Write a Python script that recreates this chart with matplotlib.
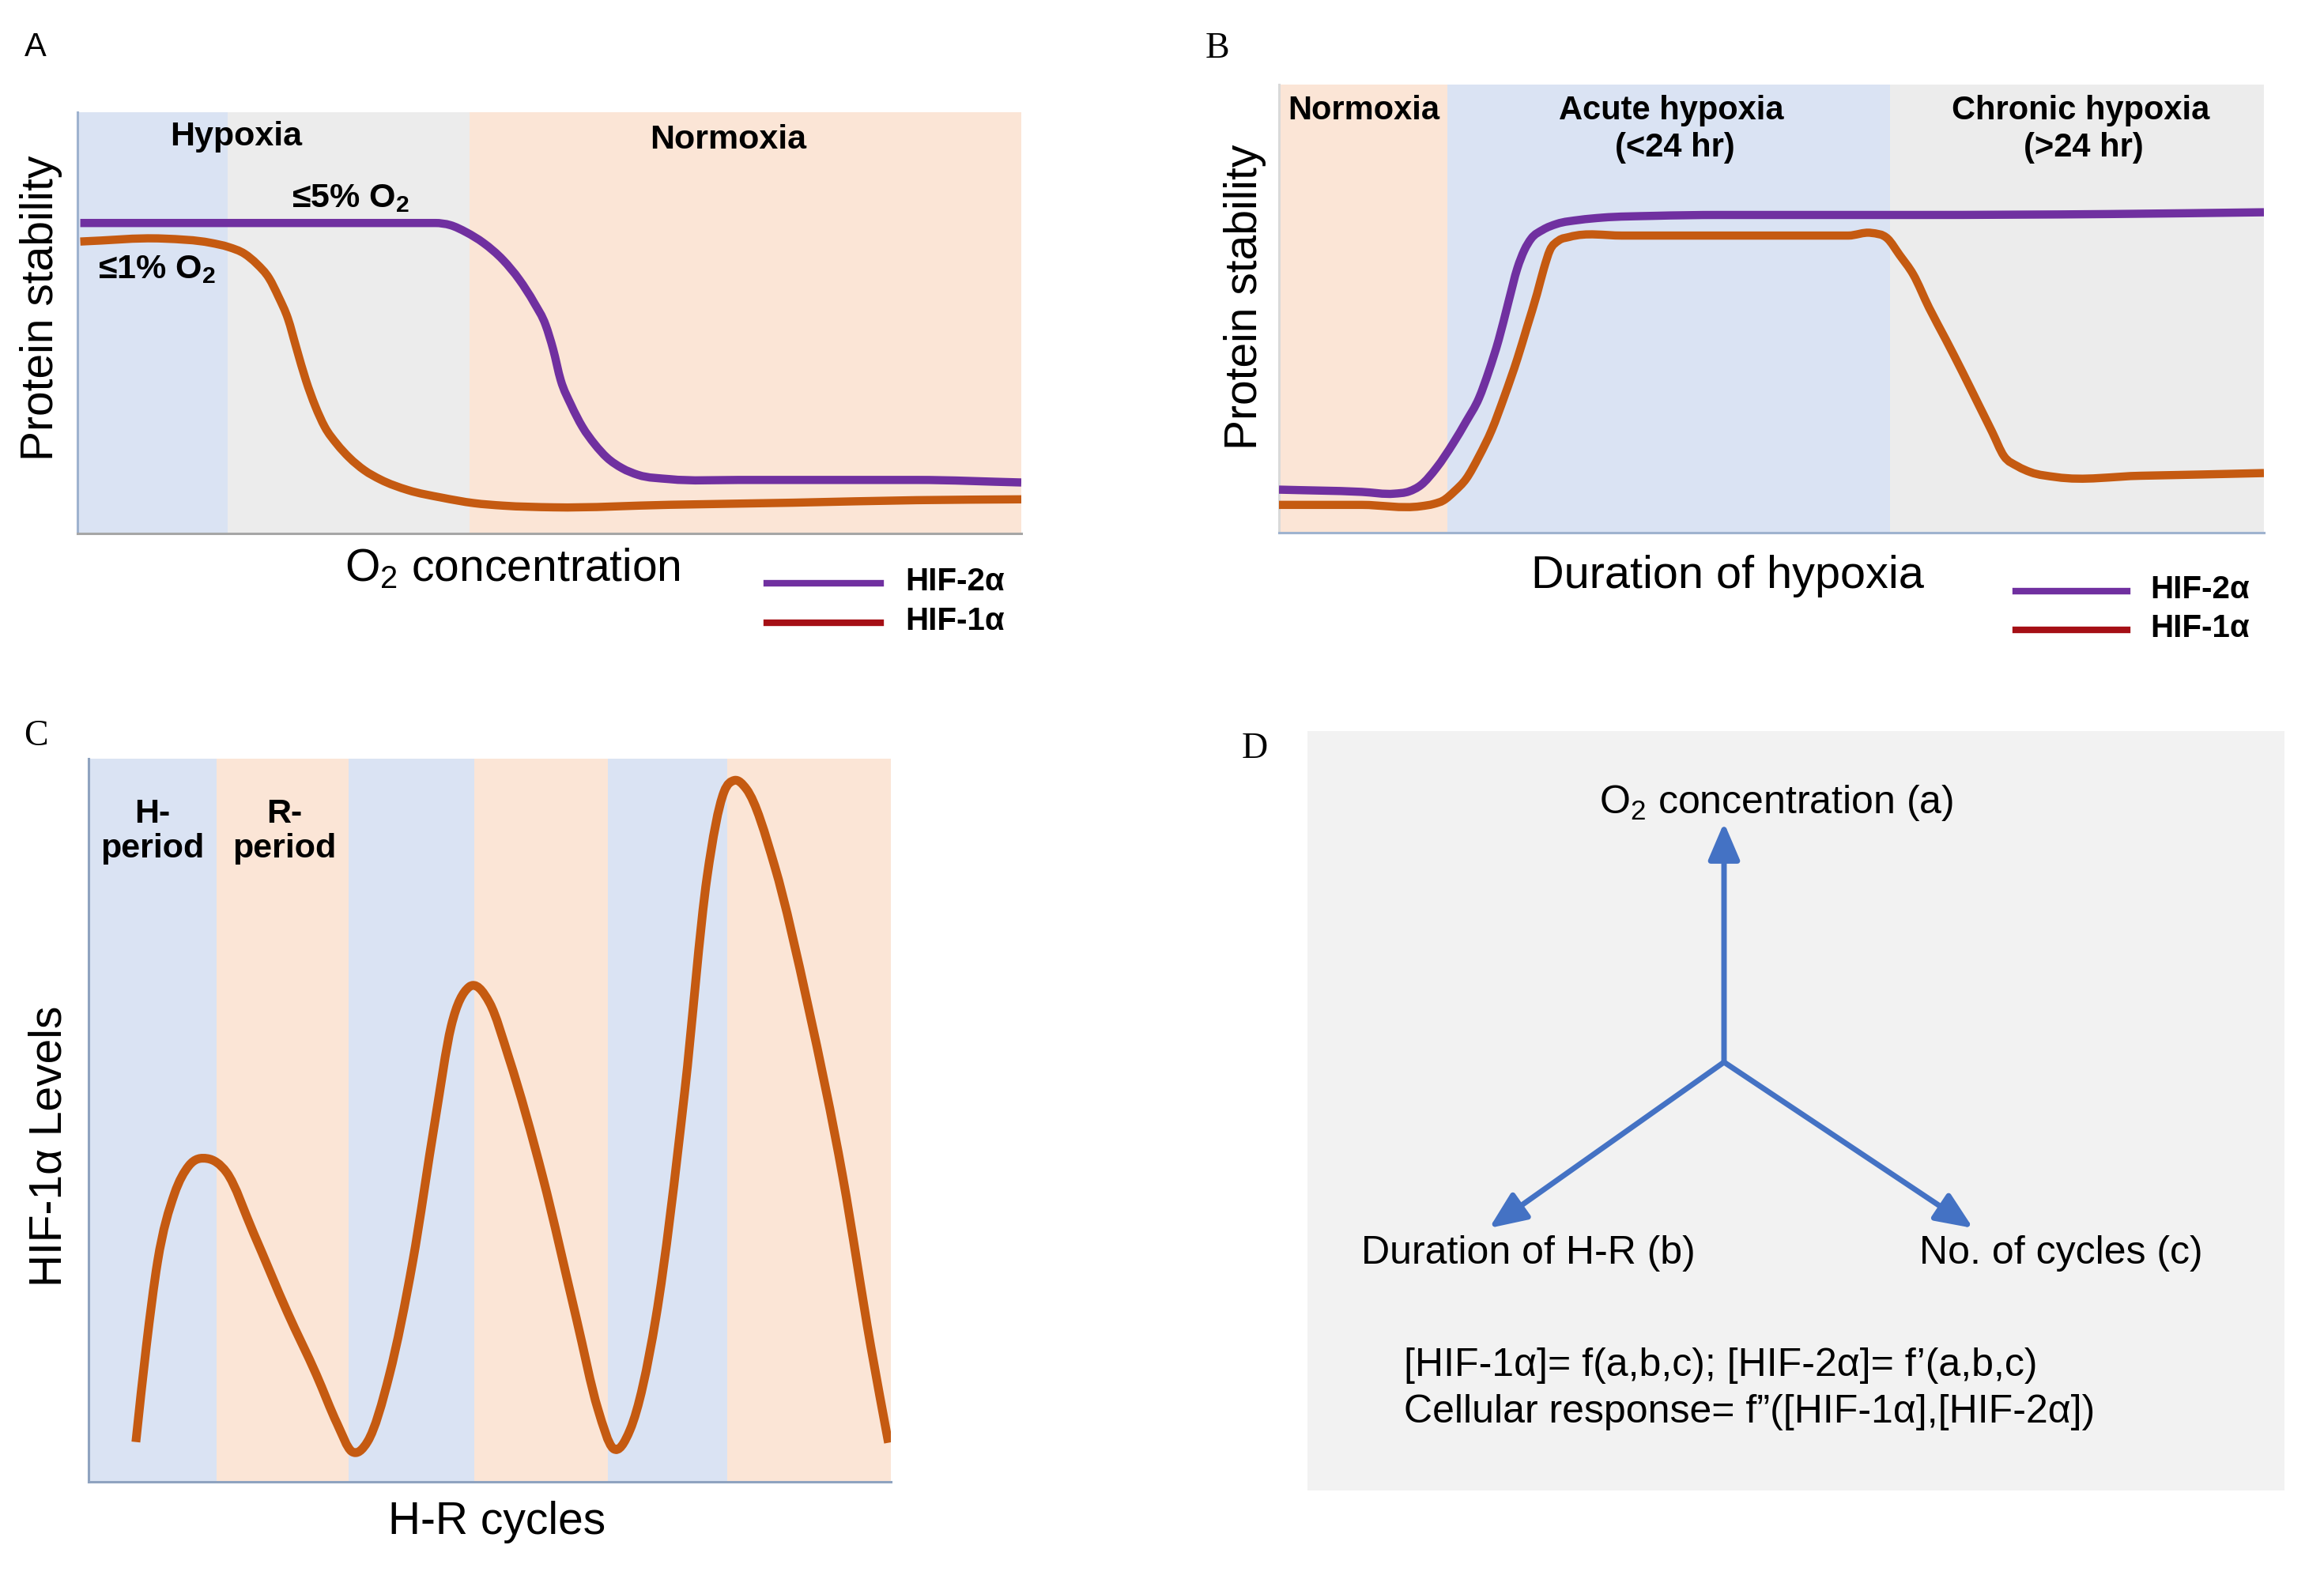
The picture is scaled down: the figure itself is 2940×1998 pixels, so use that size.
import matplotlib
matplotlib.use('Agg')
import matplotlib.pyplot as plt
from matplotlib.lines import Line2D
from matplotlib.path import Path
from matplotlib.patches import PathPatch

plt.rcParams['font.family'] = ['Liberation Sans', 'DejaVu Sans']
plt.rcParams['mathtext.fontset'] = 'custom'
plt.rcParams['mathtext.rm'] = 'Liberation Sans'
plt.rcParams['mathtext.bf'] = 'Liberation Sans:bold'
plt.rcParams['mathtext.default'] = 'regular'

W, H = 2940, 1998

# colours
BLUE_BAND = '#dae3f3'
GRAY_BAND = '#ececec'
PEACH_BAND = '#fbe5d6'
PURPLE = '#7030a0'
ORANGE = '#c55a11'
DARK_RED = '#a50f15'
ARROW_BLUE = '#4472c4'

# Panel A: protein stability vs O2 concentration (x, y as axis fractions)
a_bands = [(0.0, 0.159, BLUE_BAND), (0.159, 0.415, GRAY_BAND), (0.415, 1.0, PEACH_BAND)]
a_x_hif2 = [0.003, 0.10, 0.20, 0.30, 0.379, 0.395, 0.412, 0.430, 0.451, 0.468, 0.484, 0.496, 0.504,
            0.512, 0.523, 0.535, 0.548, 0.561, 0.577, 0.594, 0.627, 0.70, 0.758, 0.889, 1.0]
a_y_hif2 = [0.737, 0.737, 0.737, 0.737, 0.737, 0.732, 0.715, 0.690, 0.649, 0.603, 0.547, 0.495, 0.437,
            0.364, 0.305, 0.253, 0.212, 0.180, 0.155, 0.139, 0.129, 0.127, 0.127, 0.127, 0.121]
a_x_hif1 = [0.003, 0.091, 0.141, 0.160, 0.177, 0.190, 0.203, 0.213, 0.223, 0.232, 0.242, 0.252, 0.262,
            0.275, 0.288, 0.304, 0.321, 0.350, 0.386, 0.420, 0.451, 0.504, 0.627, 0.758, 0.889, 1.0]
a_y_hif1 = [0.693, 0.700, 0.690, 0.680, 0.664, 0.640, 0.606, 0.562, 0.510, 0.440, 0.364, 0.302, 0.253,
            0.212, 0.180, 0.150, 0.128, 0.103, 0.085, 0.072, 0.066, 0.062, 0.068, 0.073, 0.079, 0.081]

# Panel B: protein stability vs duration of hypoxia
b_bands = [(0.0, 0.171, PEACH_BAND), (0.171, 0.620, BLUE_BAND), (0.620, 1.0, GRAY_BAND)]
b_x_hif2 = [0.0, 0.084, 0.117, 0.132, 0.144, 0.160, 0.177, 0.190, 0.203, 0.213, 0.223, 0.233, 0.242,
            0.249, 0.256, 0.268, 0.282, 0.305, 0.328, 0.380, 0.447, 0.644, 0.842, 1.0]
b_y_hif2 = [0.096, 0.091, 0.087, 0.092, 0.106, 0.145, 0.200, 0.248, 0.300, 0.360, 0.430, 0.515, 0.590,
            0.630, 0.656, 0.676, 0.689, 0.698, 0.703, 0.707, 0.709, 0.709, 0.711, 0.715]
b_x_hif1 = [0.0, 0.084, 0.144, 0.157, 0.167, 0.178, 0.190, 0.203, 0.216, 0.229, 0.242, 0.252, 0.262,
            0.269, 0.275, 0.284, 0.295, 0.348, 0.578, 0.601, 0.618, 0.630, 0.644, 0.660, 0.677, 0.694,
            0.710, 0.724, 0.736, 0.750, 0.763, 0.789, 0.875, 1.0]
b_y_hif1 = [0.062, 0.062, 0.059, 0.064, 0.072, 0.092, 0.120, 0.170, 0.229, 0.305, 0.388, 0.460, 0.533,
            0.590, 0.630, 0.652, 0.660, 0.663, 0.663, 0.669, 0.656, 0.620, 0.576, 0.502, 0.431, 0.358,
            0.287, 0.225, 0.171, 0.148, 0.135, 0.124, 0.127, 0.133]

# Panel C: HIF-1a levels over hypoxia-reoxygenation cycles
c_edges = [0.0, 0.160, 0.324, 0.481, 0.647, 0.796, 1.0]
c_x = [0.059, 0.072, 0.086, 0.107, 0.125, 0.148, 0.172, 0.206, 0.248, 0.284, 0.310, 0.328, 0.348,
       0.375, 0.404, 0.432, 0.452, 0.474, 0.500, 0.524, 0.566, 0.608, 0.635, 0.654, 0.675, 0.707,
       0.743, 0.771, 0.792, 0.805, 0.820, 0.855, 0.897, 0.940, 0.975, 0.997]
c_y = [0.055, 0.187, 0.304, 0.398, 0.437, 0.447, 0.428, 0.343, 0.234, 0.148, 0.080, 0.042, 0.056,
       0.148, 0.304, 0.500, 0.630, 0.684, 0.662, 0.586, 0.422, 0.226, 0.100, 0.046, 0.072, 0.226,
       0.539, 0.837, 0.954, 0.970, 0.958, 0.852, 0.657, 0.422, 0.187, 0.054]

# Panel D: three axes from a common origin (pixel coordinates inside the box)
d_origin = (2181, 1344)
d_tips = [(2181, 1041), (1884, 1554), (2496, 1554)]
d_labels = ['O$_2$ concentration (a)', 'Duration of H-R (b)', 'No. of cycles (c)']
d_formula = ['[HIF-1α]= f(a,b,c); [HIF-2α]= f\u2019(a,b,c)',
             'Cellular response= f\u201d([HIF-1α],[HIF-2α])']

fig = plt.figure(figsize=(W / 100, H / 100), dpi=100)
fig.patch.set_facecolor('white')


def px_axes(l, t, r, b):
    return fig.add_axes([l / W, 1 - b / H, (r - l) / W, (b - t) / H])


def ftext(x, y, s, **kw):
    return fig.text(x / W, 1 - y / H, s, **kw)


def frame(ax, left_color, bottom_color):
    ax.set_xlim(0, 1)
    ax.set_ylim(0, 1)
    ax.set_xticks([])
    ax.set_yticks([])
    for side in ['top', 'right']:
        ax.spines[side].set_visible(False)
    ax.spines['left'].set_color(left_color)
    ax.spines['bottom'].set_color(bottom_color)
    ax.spines['left'].set_linewidth(2.2)
    ax.spines['bottom'].set_linewidth(2.2)


def slopes(xs, ys):
    # three-point tangents; flat next to a flat run so plateaus do not bulge
    n = len(xs)
    h = [xs[i + 1] - xs[i] for i in range(n - 1)]
    d = [(ys[i + 1] - ys[i]) / h[i] for i in range(n - 1)]
    m = [d[0]] + [0.0] * (n - 2) + [d[-1]]
    for i in range(1, n - 1):
        if d[i - 1] == 0 or d[i] == 0:
            m[i] = 0.0
        else:
            m[i] = (d[i - 1] * h[i] + d[i] * h[i - 1]) / (h[i - 1] + h[i])
    return m


def smooth_curve(ax, xs, ys, color, lw):
    m = slopes(xs, ys)
    verts = [(xs[0], ys[0])]
    codes = [Path.MOVETO]
    for i in range(len(xs) - 1):
        dx = xs[i + 1] - xs[i]
        verts += [(xs[i] + dx / 3, ys[i] + m[i] * dx / 3),
                  (xs[i + 1] - dx / 3, ys[i + 1] - m[i + 1] * dx / 3),
                  (xs[i + 1], ys[i + 1])]
        codes += [Path.CURVE4] * 3
    ax.add_patch(PathPatch(Path(verts, codes), facecolor='none', edgecolor=color, lw=lw,
                           capstyle='butt', joinstyle='round', zorder=3))


def legend_block(x0, x1, y_top, y_bot, tx):
    for y, c, lab in [(y_top, PURPLE, 'HIF-2α'), (y_bot, DARK_RED, 'HIF-1α')]:
        fig.add_artist(Line2D([x0 / W, x1 / W], [1 - y / H, 1 - y / H], color=c, lw=6,
                              transform=fig.transFigure))
        ftext(tx, y - 2, lab, fontsize=29, fontweight='bold', va='center', ha='left')


# ---- Panel A ----
axA = px_axes(98, 142, 1292, 675)
frame(axA, '#9fb3cf', '#a6a6a6')
for x0, x1, c in a_bands:
    axA.axvspan(x0, x1, color=c, lw=0, zorder=0)
smooth_curve(axA, a_x_hif2, a_y_hif2, PURPLE, 7.5)
smooth_curve(axA, a_x_hif1, a_y_hif1, ORANGE, 7.5)
ftext(45, 60, 'A', fontsize=30, ha='center', va='center')
ftext(299, 173, 'Hypoxia', fontsize=31, fontweight='bold', ha='center', va='center')
ftext(921, 177, 'Normoxia', fontsize=31, fontweight='bold', ha='center', va='center')
ftext(444, 251, '≤5% O$_2$', fontsize=31, fontweight='bold', ha='center', va='center')
ftext(199, 341, '≤1% O$_2$', fontsize=31, fontweight='bold', ha='center', va='center')
ftext(52, 390, 'Protein stability', fontsize=41, rotation=90, ha='center', va='center')
ftext(648, 719, 'O$_2$ concentration', fontsize=41, ha='center', va='center')
legend_block(970, 1114, 738, 788, 1145)

# ---- Panel B ----
axB = px_axes(1618, 107, 2864, 674)
frame(axB, '#d9d9d9', '#9fb3cf')
for x0, x1, c in b_bands:
    axB.axvspan(x0, x1, color=c, lw=0, zorder=0)
smooth_curve(axB, b_x_hif2, b_y_hif2, PURPLE, 7.5)
smooth_curve(axB, b_x_hif1, b_y_hif1, ORANGE, 7.5)
ftext(1540, 62, 'B', fontsize=33, family=['Liberation Serif'], ha='center', va='center')
ftext(1725, 140, 'Normoxia', fontsize=30, fontweight='bold', ha='center', va='center')
ftext(2114, 140, 'Acute hypoxia', fontsize=30, fontweight='bold', ha='center', va='center')
ftext(2119, 187, '(<24 hr)', fontsize=30, fontweight='bold', ha='center', va='center')
ftext(2632, 140, 'Chronic hypoxia', fontsize=30, fontweight='bold', ha='center', va='center')
ftext(2636, 187, '(>24 hr)', fontsize=30, fontweight='bold', ha='center', va='center')
ftext(1575, 376, 'Protein stability', fontsize=41, rotation=90, ha='center', va='center')
ftext(2185, 729, 'Duration of hypoxia', fontsize=41.5, ha='center', va='center')
legend_block(2550, 2691, 748, 797, 2720)

# ---- Panel C ----
axC = px_axes(112, 960, 1127, 1875)
frame(axC, '#8fa3c0', '#8fa3c0')
for i in range(len(c_edges) - 1):
    axC.axvspan(c_edges[i], c_edges[i + 1], color=BLUE_BAND if i % 2 == 0 else PEACH_BAND,
                lw=0, zorder=0)
smooth_curve(axC, c_x, c_y, ORANGE, 8)
ftext(45, 932, 'C', fontsize=33, family=['Liberation Serif'], ha='center', va='center')
ftext(193, 1052, 'H-\nperiod', fontsize=31, fontweight='bold', ha='center', va='center',
      multialignment='center', linespacing=1.15)
ftext(360, 1052, 'R-\nperiod', fontsize=31, fontweight='bold', ha='center', va='center',
      multialignment='center', linespacing=1.15)
ftext(63, 1450, 'HIF-1α Levels', fontsize=41, rotation=90, ha='center', va='center')
ftext(629, 1926, 'H-R cycles', fontsize=41, ha='center', va='center')

# ---- Panel D ----
axD = px_axes(1654, 925, 2890, 1886)
axD.set_facecolor('#f2f2f2')
axD.set_xlim(1654, 2890)
axD.set_ylim(1886, 925)
axD.set_xticks([])
axD.set_yticks([])
for s in axD.spines.values():
    s.set_visible(False)
for tip in d_tips:
    axD.annotate('', xy=tip, xytext=d_origin,
                 arrowprops=dict(arrowstyle='-|>,head_length=0.75,head_width=0.32',
                                 color=ARROW_BLUE, lw=5, shrinkA=0, shrinkB=0,
                                 mutation_scale=38))
axD.text(2247, 1016, d_labels[0], fontsize=36, ha='center', va='center')
axD.text(1722, 1586, d_labels[1], fontsize=36, ha='left', va='center')
axD.text(2428, 1586, d_labels[2], fontsize=36, ha='left', va='center')
axD.text(1776, 1728, d_formula[0], fontsize=36, ha='left', va='center')
axD.text(1776, 1787, d_formula[1], fontsize=36, ha='left', va='center')
ftext(1587, 948, 'D', fontsize=33, family=['Liberation Serif'], ha='center', va='center')

fig.savefig('out.png', dpi=100, facecolor='white')
plt.close(fig)
